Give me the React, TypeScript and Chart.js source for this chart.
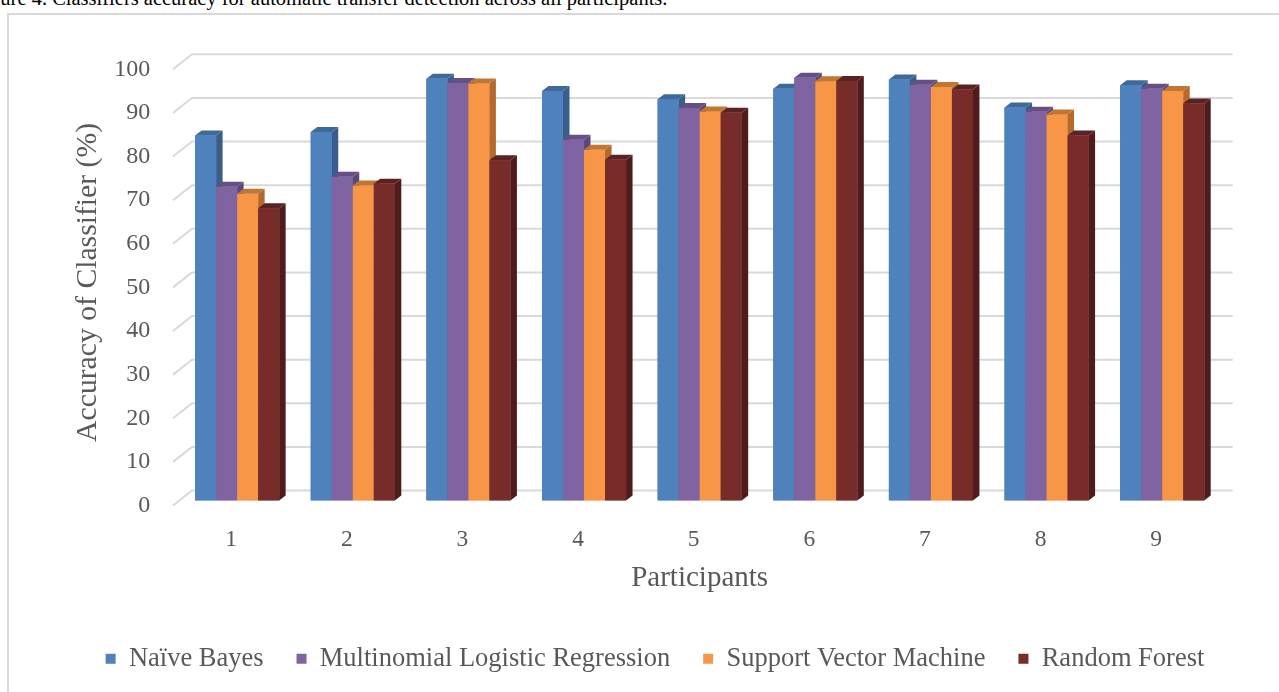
import React, { useEffect, useRef } from 'react';
import { Chart, registerables } from 'chart.js';

Chart.register(...registerables);

const categories = ['1', '2', '3', '4', '5', '6', '7', '8', '9'];
const seriesNames = ['Naïve Bayes', 'Multinomial Logistic Regression', 'Support Vector Machine', 'Random Forest'];
const naiveBayes = [83.7, 84.5, 96.7, 93.9, 92.0, 94.4, 96.5, 90.1, 95.2];
const multinomialLR = [71.9, 74.2, 95.7, 82.7, 90.0, 96.9, 95.3, 89.1, 94.4];
const svm = [70.3, 72.2, 95.6, 80.4, 89.2, 96.1, 94.8, 88.5, 93.9];
const randomForest = [67.0, 72.6, 78.0, 78.1, 88.9, 96.2, 94.2, 83.7, 91.0];
const yMin = 0;
const yMax = 100;
const yStep = 10;

const frontColors = ['#4F81BD', '#8064A2', '#F79646', '#772C2A'];
const sideColors = ['#395E8B', '#5C4878', '#B36A2C', '#4D1C1B'];
const topColors = ['#3F699A', '#654F85', '#C27634', '#5A2220'];

const FONT = '"Liberation Serif", "Times New Roman", serif';
const TEXT = '#595959';
const GRID = '#d9d9d9';
const DX = 6.5; // bar depth x
const DY = 5; // bar depth y
const BACK_DX = 12.7;
const BACK_DY = 10;
const FRONT_DX = 6.3;
const FRONT_DY = 5;

Chart.defaults.font.family = FONT;

const depthPlugin = {
  id: 'depth3d',
  beforeDatasetsDraw(chart: any) {
    const { ctx, chartArea } = chart;
    const ys = chart.scales.y;
    ctx.save();
    ctx.strokeStyle = GRID;
    ctx.lineWidth = 2;
    ys.ticks.forEach((t: any) => {
      const py = ys.getPixelForValue(t.value);
      ctx.beginPath();
      ctx.moveTo(chartArea.left - FRONT_DX, py + FRONT_DY);
      ctx.lineTo(chartArea.left + BACK_DX, py - BACK_DY);
      ctx.lineTo(chartArea.right + BACK_DX, py - BACK_DY);
      ctx.stroke();
    });
    ctx.restore();
  },
  afterDatasetsDraw(chart: any) {
    const { ctx, chartArea } = chart;
    const n = chart.data.datasets.length;
    ctx.save();
    for (let i = 0; i < n; i++) {
      const meta = chart.getDatasetMeta(i);
      meta.data.forEach((bar: any) => {
        bar.draw(ctx, chartArea);
        const { x, y, base, width } = bar.getProps(['x', 'y', 'base', 'width'], true);
        const l = x - width / 2;
        const r = x + width / 2;
        ctx.fillStyle = sideColors[i];
        ctx.beginPath();
        ctx.moveTo(r, y);
        ctx.lineTo(r + DX, y - DY);
        ctx.lineTo(r + DX, base - DY);
        ctx.lineTo(r, base);
        ctx.closePath();
        ctx.fill();
        ctx.fillStyle = topColors[i];
        ctx.beginPath();
        ctx.moveTo(l, y);
        ctx.lineTo(l + DX, y - DY);
        ctx.lineTo(r + DX, y - DY);
        ctx.lineTo(r, y);
        ctx.closePath();
        ctx.fill();
      });
    }
    ctx.restore();
  },
};

export default function App() {
  const ref = useRef<HTMLCanvasElement | null>(null);
  useEffect(() => {
    if (!ref.current) return;
    const values = [naiveBayes, multinomialLR, svm, randomForest];
    const chart = new Chart(ref.current, {
      type: 'bar',
      data: {
        labels: categories,
        datasets: values.map((v, i) => ({
          label: seriesNames[i],
          data: v,
          backgroundColor: frontColors[i],
          borderWidth: 0,
          categoryPercentage: 0.727,
          barPercentage: 1.0,
        })),
      },
      options: {
        animation: false,
        responsive: false,
        maintainAspectRatio: false,
        events: [],
        layout: { padding: { top: 49.3, right: 0, bottom: 10, left: 0 } },
        plugins: {
          tooltip: { enabled: false },
          legend: {
            position: 'bottom',
            labels: {
              boxWidth: 10,
              boxHeight: 10,
              padding: 33,
              color: TEXT,
              font: { size: 26.5, family: FONT },
            },
          },
        },
        scales: {
          x: {
            grid: { display: false, drawTicks: false },
            border: { display: false },
            ticks: { color: TEXT, font: { size: 23.5, family: FONT }, padding: 25, labelOffset: -6 },
            title: {
              display: true,
              text: 'Participants',
              color: TEXT,
              font: { size: 29, family: FONT },
              padding: { top: 0, bottom: 16.6 },
            },
            afterFit: (s: any) => { s.height = 112; },
          },
          y: {
            min: yMin,
            max: yMax,
            grid: { display: false, drawTicks: false },
            border: { display: false },
            ticks: { stepSize: yStep, color: TEXT, font: { size: 24, family: FONT }, padding: 29, labelOffset: 5 },
            title: {
              display: true,
              text: 'Accuracy of Classifier (%)',
              color: TEXT,
              font: { size: 29.7, family: FONT },
              padding: { top: 61.2, bottom: 0 },
            },
            afterFit: (s: any) => { s.width = 170.3; },
          },
          yRight: {
            type: 'linear',
            position: 'right',
            min: 0,
            max: 1,
            grid: { display: false, drawTicks: false },
            border: { display: false },
            ticks: { display: false },
            afterFit: (s: any) => { s.width = 81; },
          },
        },
      },
      plugins: [depthPlugin],
    } as any);
    return () => chart.destroy();
  }, []);

  return (
    <div style={{ position: 'fixed', left: 0, top: 0, width: 1279, height: 692, overflow: 'hidden', background: '#fff' }}>
      <div
        style={{
          position: 'absolute',
          left: -27,
          top: -12,
          fontFamily: FONT,
          fontSize: 20.5,
          lineHeight: '20.5px',
          color: '#000',
          whiteSpace: 'nowrap',
        }}
      >
        Figure 4. Classifiers accuracy for automatic transfer detection across all participants.
      </div>
      <div
        style={{
          position: 'absolute',
          left: 7,
          top: 13,
          width: 1300,
          height: 700,
          border: '2px solid #d9d9d9',
          background: '#fff',
        }}
      >
        <canvas ref={ref} width={1292} height={677} style={{ display: 'block', width: 1292, height: 677 }} />
      </div>
    </div>
  );
}
